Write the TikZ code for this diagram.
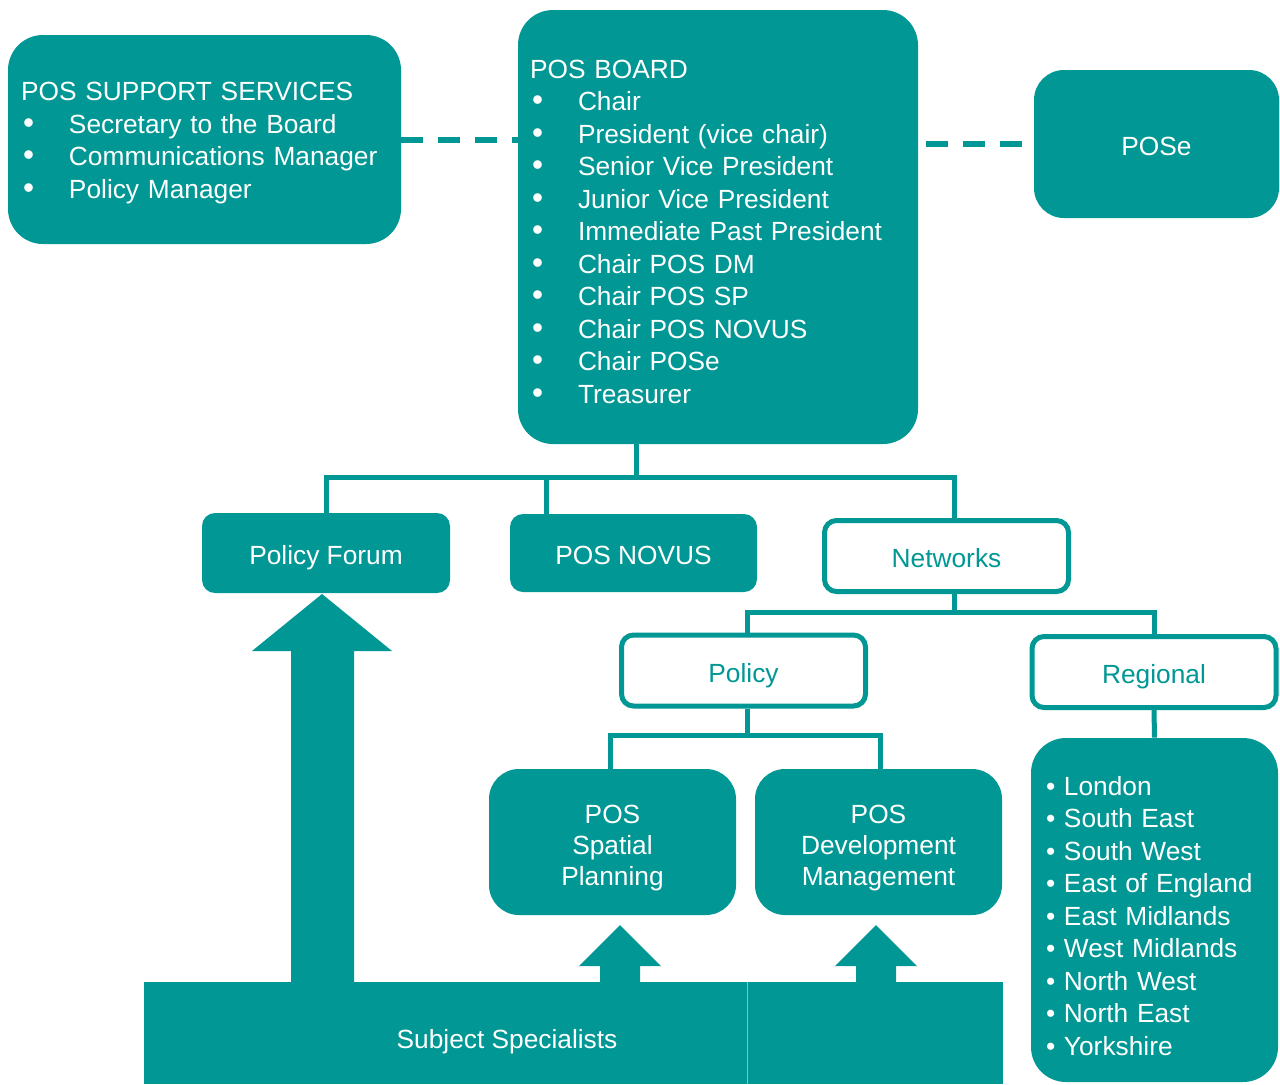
\documentclass[tikz,border=0pt]{standalone}
\usepackage{fontspec}
\setmainfont{Liberation Sans}
\usetikzlibrary{positioning}
\definecolor{posteal}{RGB}{0,151,148}
\newcommand{\brdblt}{\makebox[24pt][l]{\hspace{1pt}\scalebox{1.2}{\textbullet}}}
\newcommand{\regblt}{\textbullet\ }
\tikzset{
  every node/.style={font=\fontsize{13.15}{16.25}\selectfont},
  tealbox/.style={fill=posteal, text=white, inner sep=0pt, align=center},
  oneline/.style={text height=12pt, text depth=0.5pt},
  textdrop/.style={execute at begin node={\rule{0pt}{#1}}},
  outbox/.style={draw=posteal, line width=2.5pt, fill=white, text=posteal, minimum width=122pt,
    minimum height=35.5pt, rounded corners=6pt, inner sep=0pt, oneline},
  subbox/.style={tealbox, rounded corners=15pt, text width=123.5pt, minimum height=73pt,
    font=\fontsize{13.15}{15.5}\selectfont, textdrop=14.8pt},
  link/.style={draw=posteal, line width=2.5pt},
  dashlink/.style={draw=posteal, line width=3pt, dash pattern=on 11pt off 7.5pt}
}
\begin{document}
\begin{tikzpicture}[x=0.5pt, y=-0.5pt]
	\useasboundingbox (0,0) rectangle (1280,1084);
	\node[tealbox, rounded corners=17.5pt, minimum height=217pt, text width=188pt, align=left, inner xsep=6pt, textdrop=13.8pt] (board) at (718,227)
	  {POS BOARD\\ \brdblt Chair\\ \brdblt President (vice chair)\\ \brdblt Senior Vice President\\ \brdblt Junior Vice President\\
	   \brdblt Immediate Past President\\ \brdblt Chair POS DM\\ \brdblt Chair POS SP\\ \brdblt Chair POS NOVUS\\ \brdblt Chair POSe\\ \brdblt Treasurer};
	\node[tealbox, rounded corners=17.5pt, minimum height=104.5pt, text width=183.5pt, align=left, inner xsep=6.5pt, textdrop=12.8pt] (support) at (204.5,139.5)
	  {POS SUPPORT SERVICES\\ \brdblt Secretary to the Board\\ \brdblt Communications Manager\\ \brdblt Policy Manager};
	\node[tealbox, oneline, rounded corners=15pt, minimum width=122.5pt, minimum height=74pt] (pose) at (1156.5,144) {POSe};
	\draw[dashlink] (support.east) -- (support.east -| board.west);
	\draw[dashlink, shorten <=4pt, shorten >=5.5pt] (pose.west -| board.east) -- (pose.west);

	\node[tealbox, oneline, rounded corners=6.5pt, minimum width=124pt, minimum height=40pt] (forum) at (326,553) {Policy Forum};
	\node[tealbox, oneline, rounded corners=6.5pt, minimum width=123.5pt, minimum height=39pt] (novus) at (633.5,553) {POS NOVUS};
	\node[outbox] (netw) at (946.5,556) {Networks};
	\node[outbox] (policy) at (743.5,670.5) {Policy};
	\node[outbox] (regional) at (1154,672) {Regional};
	\node[subbox] (sp) at (612.5,842) {POS\\Spatial\\Planning};
	\node[subbox] (dm) at (878.5,842) {POS\\Development\\Management};
	\node[tealbox, rounded corners=17.5pt, minimum height=172pt, text width=108.5pt, align=left, inner xsep=7.5pt, textdrop=15.6pt] (reglist) at (1154.5,910)
	  {\regblt London\\ \regblt South East\\ \regblt South West\\ \regblt East of England\\ \regblt East Midlands\\
	   \regblt West Midlands\\ \regblt North West\\ \regblt North East\\ \regblt Yorkshire};

	\coordinate (bj) at (636,477);
	\coordinate (nvj) at (546,477);
	\coordinate (nj) at (954,612);
	\coordinate (pj) at (747,735);
	\draw[link] (board.south -| bj) -- (bj);
	\draw[link] (forum.north) |- (bj) -| ([xshift=4pt]netw.north);
	\draw[link] (nvj) -- (nvj |- novus.north);
	\draw[link] (netw.south -| nj) -- (nj);
	\draw[link] ([xshift=2pt]policy.north) |- (nj) -| (regional.north);
	\draw[link] (policy.south -| pj) -- (pj);
	\draw[link] ([xshift=-1pt]sp.north) |- (pj) -| ([xshift=1pt]dm.north);
	\draw[link] (regional.south) -- (reglist.north);

	\fill[posteal] (144,982) rectangle (1003,1084);
	\draw[posteal!55!white, line width=0.4pt] (747,982) -- (747,1084);
	\node[text=white, oneline] (spec) at (507,1037) {Subject Specialists};
	\fill[posteal] (291,982) -- (291,651) -- (252,651) -- (322,594) -- (392,651) -- (354,651) -- (354,982) -- cycle;
	\foreach \ax in {620,876}
	  \fill[posteal] (\ax-20,982) -- (\ax-20,966) -- (\ax-41,966) -- (\ax,925) -- (\ax+41,966) -- (\ax+20,966) -- (\ax+20,982) -- cycle;
\end{tikzpicture}
\end{document}
